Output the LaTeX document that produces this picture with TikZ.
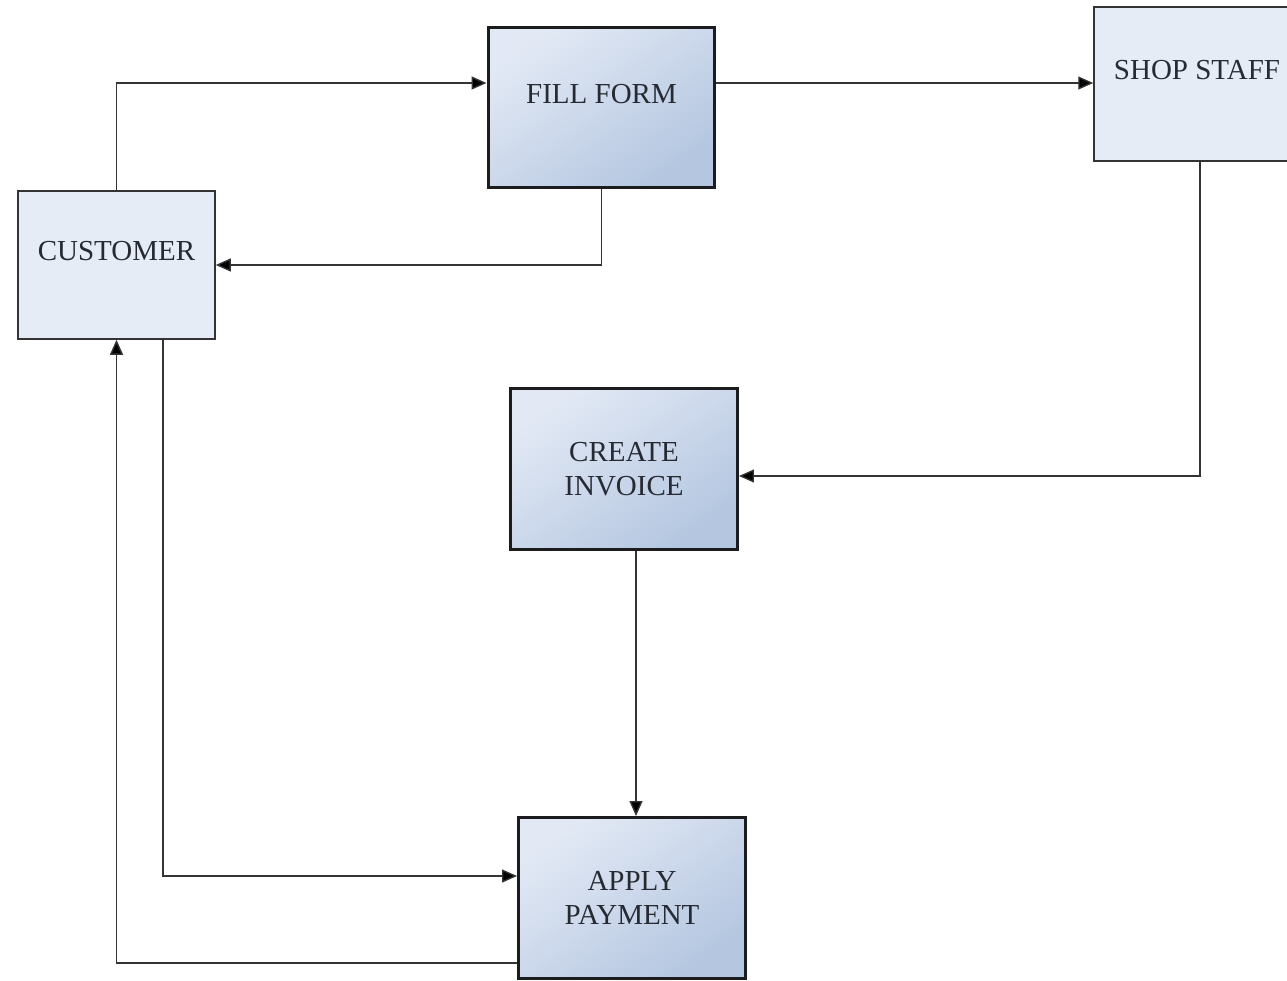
\documentclass[tikz,border=0pt]{standalone}
\usepackage{fontspec}
\setmainfont{Liberation Serif}
\usepackage{tikz}
\usetikzlibrary{positioning, arrows.meta, calc}
\definecolor{frame}{RGB}{28,28,30}
\definecolor{wire}{RGB}{52,52,54}
\definecolor{pale}{RGB}{230,236,246}
\definecolor{shadeA}{RGB}{226,233,245}
\definecolor{shadeB}{RGB}{180,198,224}
\definecolor{inktext}{RGB}{38,42,50}

\begin{document}
\begin{tikzpicture}[
  x=0.02cm, y=-0.02cm,
  role/.style={draw=wire, fill=pale, line width=0.9pt, inner sep=0pt,
               font=\fontsize{16.5}{19}\selectfont, text=inktext, align=center,
               minimum width=3.94cm, minimum height=2.96cm},
  task/.style={role, draw=frame, line width=1.7pt, top color=shadeA, bottom color=shadeB,
               shading angle=35, minimum width=4.54cm, minimum height=3.22cm},
  raised/.style={text depth=0.56cm},
  flow/.style={-{Triangle[length=0.3cm, width=0.26cm, fill=black]}, draw=wire, line width=0.8pt}]
  \path[use as bounding box, fill=white] (0,0) rectangle (1287,980);
  \node[role, raised] (customer) at (116.5,265) {CUSTOMER};
  \node[task, raised] (fillform) at (601.5,107.5) {FILL FORM};
  \node[role, raised, minimum width=4.12cm, minimum height=3.08cm] (shop) at (1197,84) {SHOP STAFF};
  \node[task] (invoice) at (624,469) {CREATE\\INVOICE};
  \node[task] (payment) at (632,898) {APPLY\\PAYMENT};
  \draw[flow] (customer.north) |- ($(fillform.west)+(0,-24.5)$);
  \draw[flow] (fillform.south) |- (customer.east);
  \draw[flow] ($(fillform.east)+(0,-24.5)$) coordinate (ffout) -- (ffout -| shop.west);
  \draw[flow] ($(shop.south)+(3,0)$) |- ($(invoice.east)+(0,7)$);
  \draw[flow] ($(invoice.south)+(12,0)$) coordinate (ciout) -- (ciout |- payment.north);
  \draw[flow] ($(customer.south)+(46.5,0)$) |- ($(payment.west)+(0,-22)$);
  \draw[flow] ($(payment.west)+(0,65)$) -| (customer.south);
\end{tikzpicture}
\end{document}
